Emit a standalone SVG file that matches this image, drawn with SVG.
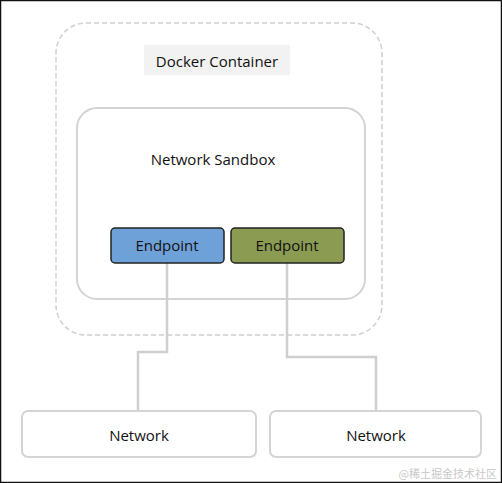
<svg xmlns="http://www.w3.org/2000/svg" width="502" height="483" viewBox="0 0 502 483">
<style>
.t{font-family:"Open Sans","Liberation Sans",sans-serif;font-size:15px;fill:#111;text-anchor:middle}
.box{fill:#fff;stroke:#d4d4d4;stroke-width:2}
.ep{stroke:#222;stroke-width:1.5}
.conn{fill:none;stroke:#cfcfcf;stroke-width:2.5}
</style>
<rect x="0.5" y="0.5" width="501" height="482" fill="#fff" stroke="#111" stroke-width="1.5"/>
<g id="docker-container">
<rect x="56" y="23" width="326" height="312" rx="30" fill="none" stroke="#cfcfcf" stroke-width="1.5" stroke-dasharray="5,3"/>
<rect x="144" y="45" width="146" height="30" fill="#f2f2f2"/>
<text class="t" x="217" y="67">Docker Container</text>
</g>
<g id="network-sandbox">
<rect class="box" x="77" y="108" width="288" height="191" rx="20"/>
<text class="t" x="213" y="165">Network Sandbox</text>
</g>
<g id="connectors">
<path class="conn" d="M167 263 V352 H138 V411"/>
<path class="conn" d="M287 263 V357 H376 V411"/>
</g>
<g id="endpoint-1">
<rect class="ep" x="111" y="228" width="113" height="35" rx="4" fill="#6fa1d9"/>
<text class="t" x="167" y="251">Endpoint</text>
</g>
<g id="endpoint-2">
<rect class="ep" x="231" y="228" width="113" height="35" rx="4" fill="#8b9b52"/>
<text class="t" x="287" y="251">Endpoint</text>
</g>
<g id="network-1">
<rect class="box" x="22" y="411" width="234" height="46" rx="6"/>
<text class="t" x="139" y="441">Network</text>
</g>
<g id="network-2">
<rect class="box" x="270" y="411" width="211" height="46" rx="6"/>
<text class="t" x="376" y="441">Network</text>
</g>
<text x="497" y="478" font-family="'Noto Sans CJK SC',sans-serif" font-size="11" fill="#c8c8c8" text-anchor="end">@稀土掘金技术社区</text>
</svg>
